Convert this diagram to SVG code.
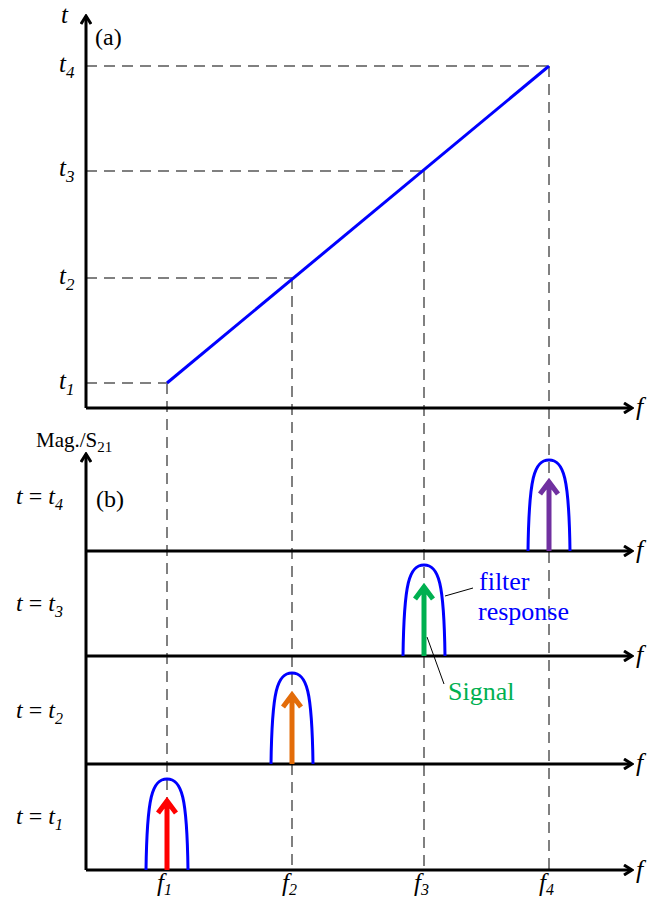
<svg xmlns="http://www.w3.org/2000/svg" width="660" height="900" viewBox="0 0 660 900">
<style>
text{font-family:"Liberation Serif","Times New Roman",serif;fill:#000}
.it{font-style:italic}
.ax{stroke:#000;stroke-width:3;fill:none}
.dash{stroke:#808080;stroke-width:2;stroke-dasharray:11,7;fill:none}
.flt{stroke:#0000ff;stroke-width:3;fill:none}
.lead{stroke:#000;stroke-width:1;fill:none}
.sig{stroke-width:5;fill:none}
</style>
<defs>
<marker id="ah" viewBox="0 0 12 12" refX="10" refY="6" markerWidth="12" markerHeight="12" markerUnits="userSpaceOnUse" orient="auto">
<path d="M2,1 L10,6 L2,11" fill="none" stroke="#000" stroke-width="3"/>
</marker>
</defs>
<g id="connectors">
<path class="dash" d="M86,66 H549 M86,171 H424 M86,278 H292 M86,383 H167"/>
<path class="dash" d="M549,66 V870 M424,171 V870 M292,278 V870 M167,383 V870"/>
<line x1="167" y1="383" x2="549" y2="66" stroke="#0000ff" stroke-width="3"/>
<line class="ax" x1="86" y1="408" x2="86" y2="16" marker-end="url(#ah)"/>
<line class="ax" x1="86" y1="408" x2="632" y2="408" marker-end="url(#ah)"/>
<line class="ax" x1="86" y1="870" x2="86" y2="454" marker-end="url(#ah)"/>
<line class="ax" x1="86" y1="551" x2="632" y2="551" marker-end="url(#ah)"/>
<line class="ax" x1="86" y1="656" x2="632" y2="656" marker-end="url(#ah)"/>
<line class="ax" x1="86" y1="764" x2="632" y2="764" marker-end="url(#ah)"/>
<line class="ax" x1="86" y1="870" x2="632" y2="870" marker-end="url(#ah)"/>
<line class="lead" x1="445" y1="596" x2="473" y2="588"/>
<line class="lead" x1="427" y1="637" x2="444" y2="684"/>
</g>
<g id="filters">
<path class="flt" d="M528,551 C529,478 534,460 549,460 C564,460 569,478 570,551"/>
<path class="flt" d="M403,656 C404,583 409,565 424,565 C439,565 444,583 445,656"/>
<path class="flt" d="M271,764 C272,691 277,673 292,673 C307,673 312,691 313,764"/>
<path class="flt" d="M146,870 C147,797 152,779 167,779 C182,779 187,797 188,870"/>
</g>
<g id="signals">
<path class="sig" d="M549,551 V482 M540,494 L549,482 L558,494" stroke="#7030a0"/>
<path class="sig" d="M424,656 V587 M415,599 L424,587 L433,599" stroke="#00b050"/>
<path class="sig" d="M292,764 V695 M283,707 L292,695 L301,707" stroke="#e36c09"/>
<path class="sig" d="M167,870 V801 M158,813 L167,801 L176,813" stroke="#ff0000"/>
</g>
<g id="labels-a">
<text class="it" x="61" y="23" font-size="25">t</text>
<text x="95" y="45" font-size="24">(a)</text>
<text class="it" x="59" y="72" font-size="25">t<tspan font-size="17" dy="6">4</tspan></text>
<text class="it" x="59" y="176" font-size="25">t<tspan font-size="17" dy="6">3</tspan></text>
<text class="it" x="59" y="284" font-size="25">t<tspan font-size="17" dy="6">2</tspan></text>
<text class="it" x="59" y="389" font-size="25">t<tspan font-size="17" dy="6">1</tspan></text>
<text class="it" x="636" y="415" font-size="26">f</text>
</g>
<g id="labels-b">
<text x="36" y="447" font-size="21">Mag./S<tspan font-size="15" dy="5">21</tspan></text>
<text x="96" y="507" font-size="24">(b)</text>
<text x="16" y="504" font-size="24"><tspan class="it">t</tspan> = <tspan class="it">t</tspan><tspan class="it" font-size="16" dy="6">4</tspan></text>
<text x="16" y="611" font-size="24"><tspan class="it">t</tspan> = <tspan class="it">t</tspan><tspan class="it" font-size="16" dy="6">3</tspan></text>
<text x="16" y="718" font-size="24"><tspan class="it">t</tspan> = <tspan class="it">t</tspan><tspan class="it" font-size="16" dy="6">2</tspan></text>
<text x="16" y="824" font-size="24"><tspan class="it">t</tspan> = <tspan class="it">t</tspan><tspan class="it" font-size="16" dy="6">1</tspan></text>
<text class="it" x="636" y="558" font-size="26">f</text>
<text class="it" x="636" y="663" font-size="26">f</text>
<text class="it" x="636" y="771" font-size="26">f</text>
<text class="it" x="636" y="878" font-size="26">f</text>
<text x="479" y="590" font-size="26" style="fill:#0000ff">filter</text>
<text x="478" y="620" font-size="26" style="fill:#0000ff">response</text>
<text x="448" y="700" font-size="26" style="fill:#00b050">Signal</text>
<text class="it" x="157" y="891" font-size="25">f<tspan font-size="16" dy="4">1</tspan></text>
<text class="it" x="282" y="891" font-size="25">f<tspan font-size="16" dy="4">2</tspan></text>
<text class="it" x="414" y="891" font-size="25">f<tspan font-size="16" dy="4">3</tspan></text>
<text class="it" x="539" y="891" font-size="25">f<tspan font-size="16" dy="4">4</tspan></text>
</g>
</svg>
